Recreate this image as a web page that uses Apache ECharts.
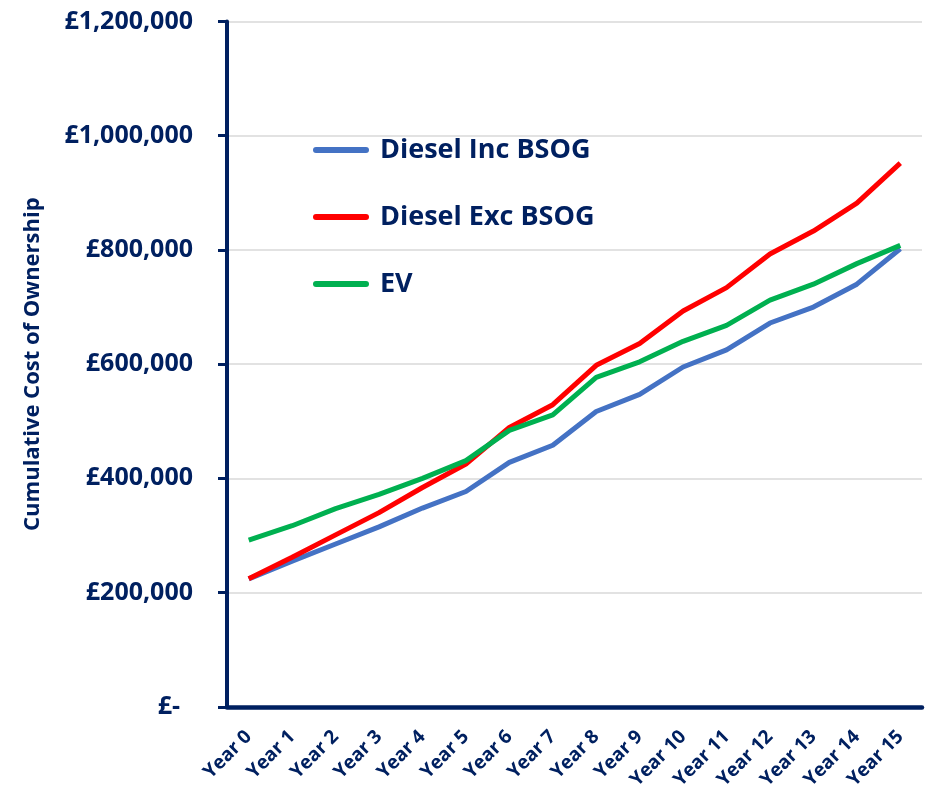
<!DOCTYPE html>
<html>
<head>
<meta charset="utf-8">
<script src="https://cdn.jsdelivr.net/npm/echarts@6/dist/echarts.min.js"></script>
<style>
html,body{margin:0;padding:0;background:#fff;}
#chart{width:930px;height:792px;}
</style>
</head>
<body>
<div id="chart"></div>
<script>
const categories = ['Year 0','Year 1','Year 2','Year 3','Year 4','Year 5','Year 6','Year 7','Year 8','Year 9','Year 10','Year 11','Year 12','Year 13','Year 14','Year 15'];
const dieselIncBSOG = [224000, 255000, 285000, 315000, 348000, 377000, 428000, 458000, 517000, 547000, 595000, 625000, 672000, 700000, 740000, 802000];
const dieselExcBSOG = [224000, 262000, 301000, 340000, 384000, 425000, 489000, 529000, 598000, 636000, 693000, 734000, 793000, 833000, 882000, 952000];
const ev = [292000, 317000, 347000, 372000, 400000, 431000, 484000, 511000, 577000, 604000, 640000, 668000, 712000, 740000, 776000, 808000];
const yTicks = [0, 200000, 400000, 600000, 800000, 1000000, 1200000];

const navy = '#002060';
const font = 'Open Sans';
const chart = echarts.init(document.getElementById('chart'));
const capsule = 'path://M3,0 L53,0 A3,3 0 0 1 53,6 L3,6 A3,3 0 0 1 3,0 Z';

chart.setOption({
  animation: false,
  grid: {left: 227, right: 8, top: 21.5, bottom: 83.5, containLabel: false},
  legend: {
    orient: 'vertical',
    left: 308,
    top: 130,
    itemWidth: 56,
    itemHeight: 6,
    itemGap: 37,
    icon: capsule,
    textStyle: {color: navy, fontFamily: font, fontWeight: 'bold', fontSize: 27, lineHeight: 30, padding: [0,0,0,6]},
    data: ['Diesel Inc BSOG','Diesel Exc BSOG','EV']
  },
  xAxis: {
    type: 'category',
    data: categories,
    boundaryGap: true,
    axisLine: {lineStyle: {color: navy, width: 4.5}},
    axisTick: {show: false},
    axisLabel: {interval: 0, rotate: 45, margin: 27, color: navy, fontFamily: font, fontWeight: 'bold', fontSize: 19}
  },
  yAxis: {
    type: 'value',
    min: yTicks[0],
    max: yTicks[yTicks.length - 1],
    interval: yTicks[1] - yTicks[0],
    name: 'Cumulative Cost of Ownership',
    nameLocation: 'middle',
    nameGap: 183,
    nameTextStyle: {color: navy, fontFamily: font, fontWeight: 'bold', fontSize: 22},
    axisLine: {show: true, lineStyle: {color: navy, width: 4}},
    axisTick: {show: true, length: 9, lineStyle: {color: navy, width: 3}},
    splitLine: {lineStyle: {color: '#d9d9d9', width: 1.5}},
    axisLabel: {
      margin: 34, color: navy, fontFamily: font, fontWeight: 'bold', fontSize: 25,
      formatter: function (v) { return v === 0 ? '£-  ' : '£' + v.toLocaleString('en-GB'); }
    }
  },
  series: [
    {name: 'Diesel Inc BSOG', type: 'line', data: dieselIncBSOG, symbol: 'none', lineStyle: {color: '#4472C4', width: 5}, itemStyle: {color: '#4472C4'}},
    {name: 'Diesel Exc BSOG', type: 'line', data: dieselExcBSOG, symbol: 'none', lineStyle: {color: '#FF0000', width: 5}, itemStyle: {color: '#FF0000'}},
    {name: 'EV', type: 'line', data: ev, symbol: 'none', lineStyle: {color: '#00B050', width: 5}, itemStyle: {color: '#00B050'}}
  ]
});
</script>
</body>
</html>
